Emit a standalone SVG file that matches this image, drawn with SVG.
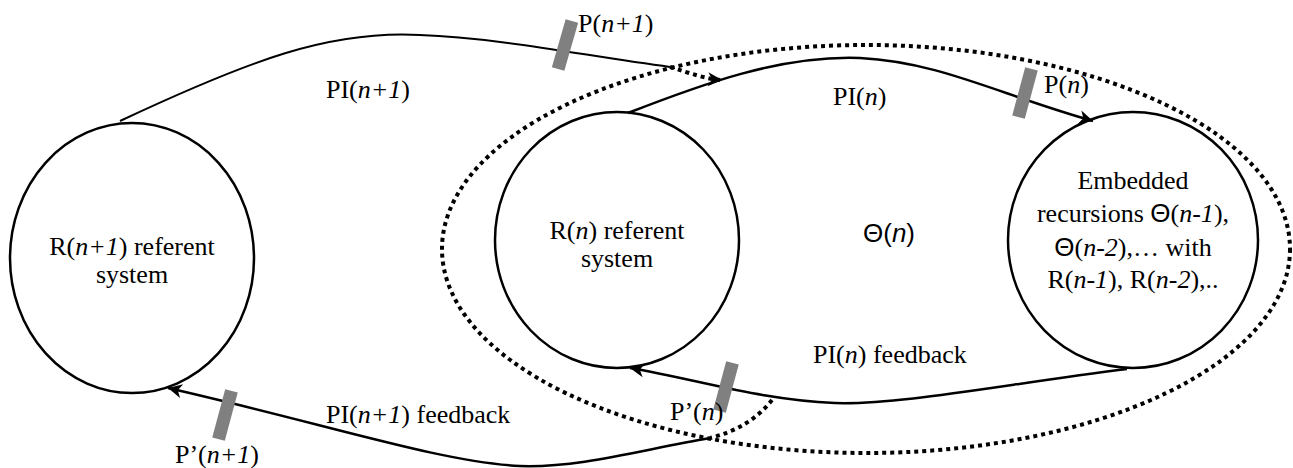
<svg xmlns="http://www.w3.org/2000/svg" width="1293" height="468" viewBox="0 0 1293 468">
<style>
.node{fill:none;stroke:#000;stroke-width:2.5}
.dot{fill:none;stroke:#000;stroke-width:4;stroke-dasharray:4 4}
.line{fill:none;stroke:#000;stroke-width:2.5}
.thin{fill:none;stroke:#000;stroke-width:2}
.gate{fill:#808080}
text{font-family:"Liberation Serif","Times New Roman",serif;font-size:26px;fill:#000}
.sans{font-family:"Liberation Sans",Arial,sans-serif}
.it{font-style:italic}
</style>
<defs>
<marker id="arr" markerUnits="userSpaceOnUse" markerWidth="20" markerHeight="16" refX="15" refY="7" orient="auto" overflow="visible">
<path d="M15,7 L1,0 L5,7 L1,14 Z" fill="#000"/>
</marker>
</defs>

<g id="theta-boundary">
<ellipse class="dot" cx="866" cy="249" rx="424" ry="204"/>
<text class="sans" x="889" y="242" text-anchor="middle">Θ(<tspan class="it">n</tspan>)</text>
</g>

<g id="connectors">
<path class="thin" d="M120,121 C250,60 330,30 420,35 C500,38 580,55 670,67"/>
<path class="dot" d="M670,67 C690,73 705,79 722,80" marker-end="url(#arr)"/>
<path class="line" d="M628,113 C700,85 780,55 860,58 C940,62 1000,95 1093,121" marker-end="url(#arr)"/>
<path class="line" d="M1127,369 C1000,385 900,405 835,403 C760,400 700,380 630,368" marker-end="url(#arr)"/>
<path class="dot" d="M772,400 Q750,428 710,438"/>
<path class="line" d="M710,438 C640,450 580,468 520,466 C440,462 330,425 168,388" marker-end="url(#arr)"/>
<rect class="gate" x="-6.5" y="-25" width="13" height="50" transform="translate(565,45) rotate(16)"/>
<rect class="gate" x="-6.5" y="-25" width="13" height="50" transform="translate(1025,93) rotate(15)"/>
<rect class="gate" x="-6.5" y="-25" width="13" height="50" transform="translate(726,387) rotate(15)"/>
<rect class="gate" x="-6.5" y="-25" width="13" height="50" transform="translate(225,415) rotate(15)"/>
<text x="578" y="32">P(<tspan class="it">n+1</tspan>)</text>
<text x="326" y="98">PI(<tspan class="it">n+1</tspan>)</text>
<text x="833" y="105">PI(<tspan class="it">n</tspan>)</text>
<text x="1044" y="93">P(<tspan class="it">n</tspan>)</text>
<text x="813" y="363">PI(<tspan class="it">n</tspan>) feedback</text>
<text x="670" y="420">P’(<tspan class="it">n</tspan>)</text>
<text x="326" y="423">PI(<tspan class="it">n+1</tspan>) feedback</text>
<text x="175" y="463">P’(<tspan class="it">n+1</tspan>)</text>
</g>

<g id="node-Rn1">
<ellipse class="node" cx="132" cy="258" rx="122" ry="135"/>
<text x="132" y="255" text-anchor="middle">R(<tspan class="it">n+1</tspan>) referent</text>
<text x="132" y="283" text-anchor="middle">system</text>
</g>

<g id="node-Rn">
<ellipse class="node" cx="617" cy="240" rx="122" ry="128"/>
<text x="617" y="239" text-anchor="middle">R(<tspan class="it">n</tspan>) referent</text>
<text x="617" y="267" text-anchor="middle">system</text>
</g>

<g id="node-embedded">
<ellipse class="node" cx="1133" cy="240" rx="125" ry="128"/>
<text x="1133" y="189" text-anchor="middle">Embedded</text>
<text x="1133" y="222" text-anchor="middle">recursions <tspan class="sans">Θ</tspan>(<tspan class="it">n-1</tspan>),</text>
<text x="1133" y="256" text-anchor="middle"><tspan class="sans">Θ</tspan>(<tspan class="it">n-2</tspan>),… with</text>
<text x="1133" y="288" text-anchor="middle">R(<tspan class="it">n-1</tspan>), R(<tspan class="it">n-2</tspan>),..</text>
</g>
</svg>
